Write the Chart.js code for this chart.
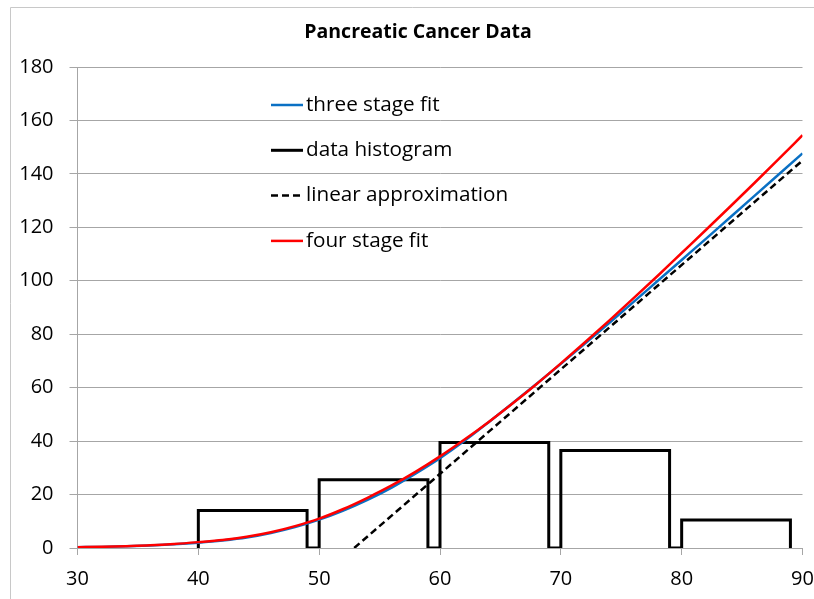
<!DOCTYPE html>
<html><head><meta charset="utf-8">
<script src="https://cdn.jsdelivr.net/npm/chart.js@4.4.1/dist/chart.umd.min.js"></script>
<style>html,body{margin:0;padding:0;background:#fff}#wrap{width:814px;height:599px;position:relative}</style>
</head><body><div id="wrap"><canvas id="c" width="814" height="599"></canvas></div>
<script>
const chartTitle = 'Pancreatic Cancer Data';
const xTickValues = [30, 40, 50, 60, 70, 80, 90];
const yTickValues = [0, 20, 40, 60, 80, 100, 120, 140, 160, 180];

const fitAges = [30,32,34,36,38,40,42,44,46,48,50,52,54,56,58,60,62,64,66,68,70,72,74,76,78,80,82,84,86,88,90];
const threeStageFit = [0.3,0.42,0.65,0.95,1.4,2.0,2.8,3.9,5.6,7.8,10.6,14.0,18.0,22.6,27.9,33.6,40.0,47.0,54.2,61.5,68.9,76.5,84.2,92.0,99.9,107.8,115.7,123.7,131.7,139.7,147.7];
const fourStageFit = [0.3,0.45,0.7,1.0,1.5,2.2,3.0,4.2,5.9,8.2,11.0,14.6,18.8,23.4,28.6,34.3,40.5,47.1,54.1,61.4,69.1,77.0,85.1,93.4,101.8,110.4,119.0,127.7,136.5,145.4,154.5];

const binStarts = [40, 50, 60, 70, 80];
const binEnds = [49, 59, 69, 79, 89];
const binCounts = [14, 25.5, 39.5, 36.5, 10.5];

const linearAges = [52.9, 90];
const linearValues = [0, 145];

const legendOrder = ['three stage fit', 'data histogram', 'linear approximation', 'four stage fit'];

const FONT = '"Open Sans", "DejaVu Sans", sans-serif';
const GRID = '#a6a6a6';

const histPoints = [];
binStarts.forEach((s, i) => {
  histPoints.push({x: s, y: 0}, {x: s, y: binCounts[i]}, {x: binEnds[i], y: binCounts[i]}, {x: binEnds[i], y: 0});
});
const pts = (xs, ys) => xs.map((x, i) => ({x, y: ys[i]}));

const datasets = [
  {label: 'four stage fit', data: pts(fitAges, fourStageFit), borderColor: '#ff0000', borderWidth: 2.5, cubicInterpolationMode: 'monotone', order: 0},
  {label: 'three stage fit', data: pts(fitAges, threeStageFit), borderColor: '#0a70c4', borderWidth: 2.5, cubicInterpolationMode: 'monotone', order: 1},
  {label: 'linear approximation', data: pts(linearAges, linearValues), borderColor: '#000000', borderWidth: 2.5, borderDash: [7, 4], order: 2},
  {label: 'data histogram', data: histPoints, borderColor: '#000000', borderWidth: 3, borderJoinStyle: 'miter', tension: 0, order: 3}
];

const decor = {
  id: 'decor',
  beforeDraw(chart) {
    const ctx = chart.ctx;
    ctx.save();
    ctx.fillStyle = '#fff';
    ctx.fillRect(0, 0, chart.width, chart.height);
    ctx.strokeStyle = '#c8c8c8';
    ctx.lineWidth = 1;
    ctx.beginPath();
    ctx.moveTo(10.5, chart.height);
    ctx.lineTo(10.5, 7.5);
    ctx.lineTo(chart.width, 7.5);
    ctx.stroke();
    ctx.fillStyle = '#000';
    ctx.font = 'bold 19.5px ' + FONT;
    ctx.textAlign = 'center';
    ctx.textBaseline = 'middle';
    ctx.fillText(chartTitle, 418, 32);
    ctx.restore();
  },
  afterDraw(chart) {
    const ctx = chart.ctx;
    ctx.save();
    ctx.font = '20.7px ' + FONT;
    ctx.textBaseline = 'middle';
    ctx.textAlign = 'left';
    legendOrder.forEach((name, i) => {
      const ds = chart.data.datasets.find(d => d.label === name);
      const y = 105 + i * 45.3;
      ctx.strokeStyle = ds.borderColor;
      ctx.lineWidth = ds.borderWidth;
      ctx.setLineDash(ds.borderDash ? [7, 4] : []);
      ctx.beginPath();
      ctx.moveTo(271, y);
      ctx.lineTo(ds.borderDash ? 300 : 303, y);
      ctx.stroke();
      ctx.setLineDash([]);
      ctx.fillStyle = '#000';
      ctx.fillText(name, 306, y);
    });
    ctx.restore();
  }
};

new Chart(document.getElementById('c'), {
  type: 'line',
  data: {datasets},
  options: {
    responsive: false,
    devicePixelRatio: 1,
    animation: false,
    elements: {point: {radius: 0}, line: {fill: false}},
    layout: {padding: {top: 67, right: 11.5, left: 0, bottom: 0}},
    plugins: {legend: {display: false}, title: {display: false}, tooltip: {enabled: false}},
    scales: {
      x: {
        type: 'linear', min: 30, max: 90,
        afterBuildTicks: s => { s.ticks = xTickValues.map(v => ({value: v})); },
        afterFit: s => { s.height = 51; s.paddingLeft = 0; s.paddingRight = 0; },
        grid: {drawOnChartArea: false, drawTicks: true, tickLength: 7, color: GRID},
        border: {display: true, color: GRID},
        ticks: {font: {family: FONT, size: 20}, color: '#000', padding: 12, maxRotation: 0, autoSkip: false}
      },
      y: {
        type: 'linear', min: 0, max: 180,
        afterBuildTicks: s => { s.ticks = yTickValues.map(v => ({value: v})); },
        afterFit: s => { s.width = 77.5; s.paddingTop = 0; s.paddingBottom = 0; },
        grid: {drawOnChartArea: true, drawTicks: true, tickLength: 8, color: GRID},
        border: {display: true, color: GRID},
        ticks: {font: {family: FONT, size: 20}, color: '#000', padding: 16, autoSkip: false}
      }
    }
  },
  plugins: [decor]
});
</script></body></html>
